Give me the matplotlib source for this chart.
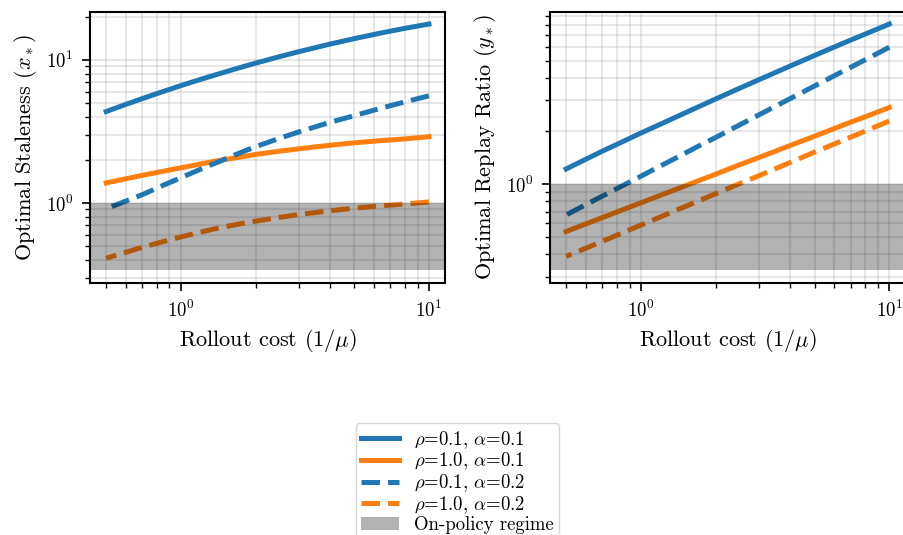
import matplotlib
matplotlib.use("Agg")
import matplotlib.pyplot as plt
import numpy as np

plt.rcParams['font.family'] = 'serif'
plt.rcParams['font.serif'] = ['cmr10']
plt.rcParams['mathtext.fontset'] = 'cm'
plt.rcParams['axes.formatter.use_mathtext'] = True
plt.rcParams['axes.unicode_minus'] = False

# rollout cost 1/mu (mu goes up, so cost goes down)
cost = [10, 8, 6.5, 5, 4, 3, 2.5, 2, 1.7, 1.4, 1.2, 1, 0.85, 0.7, 0.6, 0.5]

# optimal staleness x*
stale_r01_a01 = [17.77, 16.58, 15.46, 14.05, 12.88, 11.41, 10.52, 9.47, 8.74, 7.91, 7.29, 6.60, 6.01, 5.36, 4.88, 4.35]
stale_r10_a01 = [2.90, 2.80, 2.73, 2.63, 2.53, 2.39, 2.30, 2.18, 2.08, 1.97, 1.87, 1.76, 1.665, 1.56, 1.474, 1.38]
stale_r01_a02 = [5.60, 5.08, 4.62, 4.07, 3.66, 3.14, 2.83, 2.47, 2.21, 1.92, 1.72, 1.50, 1.33, 1.143, 1.03, 0.91]
stale_r10_a02 = [1.016, 0.983, 0.956, 0.919, 0.882, 0.830, 0.793, 0.746, 0.710, 0.665, 0.625, 0.579, 0.537, 0.490, 0.452, 0.411]

# optimal replay ratio y*
replay_r01_a01 = [8.08, 7.09, 6.28, 5.36, 4.68, 3.92, 3.50, 3.04, 2.74, 2.42, 2.19, 1.95, 1.75, 1.54, 1.385, 1.22]
replay_r10_a01 = [2.72, 2.41, 2.16, 1.87, 1.66, 1.42, 1.29, 1.14, 1.045, 0.941, 0.866, 0.785, 0.719, 0.647, 0.596, 0.54]
replay_r01_a02 = [5.97, 5.07, 4.36, 3.60, 3.06, 2.48, 2.17, 1.84, 1.64, 1.42, 1.27, 1.11, 0.986, 0.857, 0.766, 0.67]
replay_r10_a02 = [2.28, 2.00, 1.77, 1.52, 1.33, 1.12, 1.008, 0.884, 0.802, 0.716, 0.653, 0.587, 0.533, 0.475, 0.434, 0.39]

# on-policy band (lower edge, upper edge)
band_stale = (0.338, 1.0)
band_replay = (0.325, 1.0)

labels = [r'$\rho$=0.1, $\alpha$=0.1', r'$\rho$=1.0, $\alpha$=0.1',
          r'$\rho$=0.1, $\alpha$=0.2', r'$\rho$=1.0, $\alpha$=0.2']
colors = ['#1f77b4', '#ff7f0e', '#1f77b4', '#ff7f0e']
styles = ['-', '-', '--', '--']

fig = plt.figure(figsize=(9.04, 5.35), dpi=100)
ax1 = fig.add_axes([0.0996, 0.4716, 0.3927, 0.5065])
ax2 = fig.add_axes([0.6084, 0.4716, 0.3932, 0.5065])

panels = [
    (ax1, [stale_r01_a01, stale_r10_a01, stale_r01_a02, stale_r10_a02], band_stale, r'Optimal Staleness ($x_*$)'),
    (ax2, [replay_r01_a01, replay_r10_a01, replay_r01_a02, replay_r10_a02], band_replay, r'Optimal Replay Ratio ($y_*$)'),
]

for ax, series, band, ylab in panels:
    for ys, c, ls, lab in zip(series, colors, styles, labels):
        ax.plot(cost, ys, color=c, linestyle=ls, linewidth=3.6, label=lab, zorder=2)
    ax.axhspan(band[0], band[1], color='black', alpha=0.3, linewidth=0, zorder=3,
               label='On-policy regime')
    ax.set_xscale('log')
    ax.set_yscale('log')
    ax.grid(True, which='both', color='#b0b0b0', alpha=0.3, linewidth=1.5, zorder=0)
    ax.set_xlabel(r'Rollout cost ($1/\mu$)', fontsize=16, labelpad=5)
    ax.set_ylabel(ylab, fontsize=16, labelpad=5)
    ax.tick_params(which='both', direction='out', labelsize=13.5, pad=6)
    ax.tick_params(which='major', length=6, width=1.2)
    ax.tick_params(which='minor', length=3.5, width=1.0)
    for s in ax.spines.values():
        s.set_linewidth(1.5)

handles, labs = ax1.get_legend_handles_labels()
fig.legend(handles, labs, loc='upper center', bbox_to_anchor=(0.506, 0.209),
           borderaxespad=0, fontsize=13.5, framealpha=0.8, labelspacing=0.0,
           borderpad=0.3)

fig.savefig('out.png', dpi=100)
